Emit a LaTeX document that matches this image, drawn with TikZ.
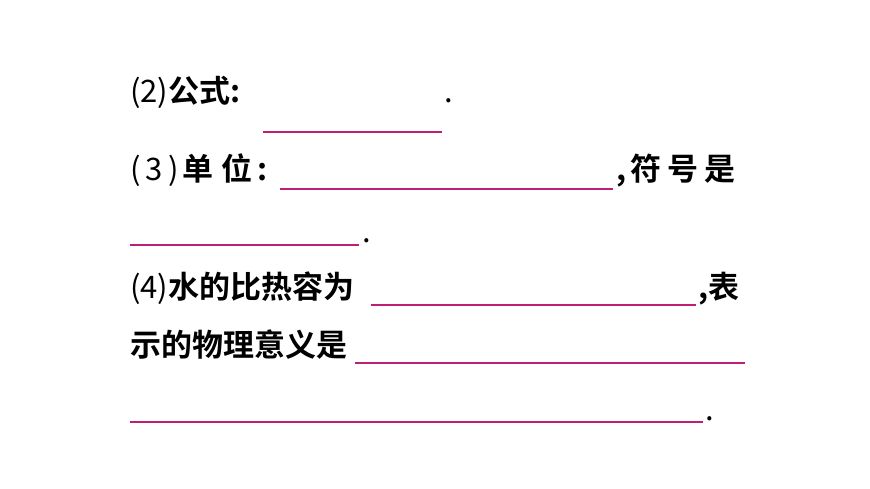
\documentclass[tikz,border=0pt]{standalone}
\usepackage{fontspec}
\setmainfont{Noto Sans CJK SC}[BoldFont={Noto Sans CJK SC Bold}]
\definecolor{ul}{RGB}{190,30,120}
\begin{document}
\begin{tikzpicture}[x=1pt,y=-1pt,
  txt/.style={anchor=base west,inner sep=0pt,font=\fontsize{31}{31}\selectfont},
  uline/.style={draw=ul,line width=1.1pt}]
\useasboundingbox (0,0) rectangle (870,489);
\node[txt] (t1) at (130,103) {(2)\textbf{公式:}};
\node[txt] (d1) at (444,103) {.};
\draw[uline] (263,132) -- (442,132);
\node[txt] (t2) at (130,181) {(\,3\,)\hspace{4pt}\textbf{单}\hspace{8pt}\textbf{位\,:}};
\draw[uline] (280,189) -- (613,189);
\node[txt] (t3) at (616,181) {\textbf{,}\hspace{4pt}\textbf{符}\hspace{6pt}\textbf{号}\hspace{6pt}\textbf{是}};
\draw[uline] (130,245) -- (359,245);
\node[txt] (d3) at (362,243) {.};
\node[txt] (t4) at (130,298) {(4)\textbf{水的比热容为}};
\draw[uline] (371,305) -- (696,305);
\node[txt] (t5) at (698,298) {\textbf{,表}};
\node[txt] (t6) at (130,356) {\textbf{示的物理意义是}};
\draw[uline] (355,363) -- (745,363);
\draw[uline] (130,422) -- (703,422);
\node[txt] (d6) at (705,420) {.};
\end{tikzpicture}
\end{document}
